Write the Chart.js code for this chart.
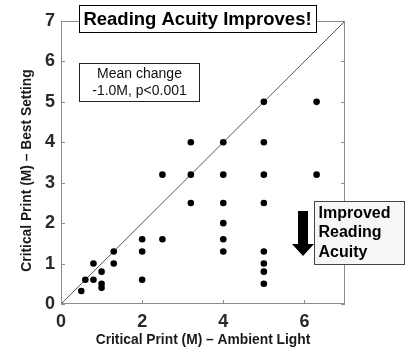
<!DOCTYPE html>
<html>
<head>
<meta charset="utf-8">
<script src="https://cdn.jsdelivr.net/npm/chart.js@4.4.1/dist/chart.umd.min.js"></script>
<style>
  html, body { margin: 0; padding: 0; background: #fff; }
  .wrap { width: 412px; height: 351px; }
</style>
</head>
<body>
<div class="wrap"><canvas id="chart"></canvas></div>
<script>
// critical print size (M): ambient light vs best setting
const ambient = [0.5, 0.6, 0.8, 0.8, 1.0, 1.0, 1.0, 1.3, 1.3, 2.0, 2.0, 2.0, 2.5, 2.5,
                 3.2, 3.2, 3.2, 4.0, 4.0, 4.0, 4.0, 4.0, 4.0,
                 5.0, 5.0, 5.0, 5.0, 5.0, 5.0, 5.0, 5.0, 6.3, 6.3];
const best = [0.32, 0.6, 1.0, 0.6, 0.8, 0.5, 0.4, 1.3, 1.0, 1.6, 1.3, 0.6, 3.2, 1.6,
              4.0, 3.2, 2.5, 4.0, 3.2, 2.5, 2.0, 1.6, 1.3,
              5.0, 4.0, 3.2, 2.5, 1.3, 1.0, 0.8, 0.5, 5.0, 3.2];
const identityLine = [0, 7];
const xTicks = [0, 2, 4, 6];
const yTicks = [0, 1, 2, 3, 4, 5, 6, 7];

const FONT = "'Liberation Sans', Arial, Helvetica, sans-serif";
const frameColor = '#8c8c8c';

const points = ambient.map((x, i) => ({ x: x, y: best[i] }));

const annotations = {
    id: 'annotations',
    afterDatasetsDraw(chart) {
        const { ctx, chartArea: a, scales: { x, y } } = chart;
        ctx.save();
        // frame on top & right plus inward ticks
        ctx.strokeStyle = frameColor;
        ctx.lineWidth = 1;
        ctx.strokeRect(a.left + 0.5, a.top + 0.5, a.right - a.left - 1, a.bottom - a.top - 1);
        ctx.beginPath();
        xTicks.forEach(v => {
            const px = Math.round(x.getPixelForValue(v)) + 0.5;
            ctx.moveTo(px, a.bottom); ctx.lineTo(px, a.bottom - 4);
            ctx.moveTo(px, a.top); ctx.lineTo(px, a.top + 4);
        });
        yTicks.forEach(v => {
            const py = Math.round(y.getPixelForValue(v)) + 0.5;
            ctx.moveTo(a.left, py); ctx.lineTo(a.left + 4, py);
            ctx.moveTo(a.right, py); ctx.lineTo(a.right - 4, py);
        });
        ctx.stroke();
        ctx.restore();
    },
    afterDraw(chart) {
        const { ctx } = chart;
        ctx.save();

        // y axis title (sits a bit below the axis centre in the original)
        ctx.save();
        ctx.translate(27.5, 170.5);
        ctx.rotate(-Math.PI / 2);
        ctx.fillStyle = '#1a1a1a';
        ctx.font = 'bold 13.8px ' + FONT;
        ctx.textAlign = 'center';
        ctx.textBaseline = 'middle';
        ctx.fillText('Critical Print (M) \u2013 Best Setting', 0, 0);
        ctx.restore();

        // title box
        ctx.fillStyle = '#fff';
        ctx.fillRect(79, 5, 237, 27);
        ctx.strokeStyle = '#000';
        ctx.lineWidth = 1;
        ctx.strokeRect(79.5, 5.5, 237, 27);
        ctx.fillStyle = '#000';
        ctx.font = 'bold 18.5px ' + FONT;
        ctx.textAlign = 'center';
        ctx.textBaseline = 'middle';
        ctx.fillText('Reading Acuity Improves!', 197.5, 19.5);

        // mean change box
        ctx.fillStyle = '#fff';
        ctx.fillRect(79, 63, 120, 38);
        ctx.strokeStyle = '#222';
        ctx.strokeRect(79.5, 63.5, 120, 38);
        ctx.fillStyle = '#111';
        ctx.font = '14px ' + FONT;
        ctx.fillText('Mean change', 139.5, 74.5);
        ctx.fillText('-1.0M, p<0.001', 139.5, 91);

        // improved reading acuity box
        ctx.fillStyle = '#f6f6f6';
        ctx.fillRect(314, 201, 90, 63);
        ctx.strokeStyle = '#444';
        ctx.strokeRect(314.5, 201.5, 90, 63);
        ctx.fillStyle = '#000';
        ctx.font = 'bold 16px ' + FONT;
        ctx.textAlign = 'left';
        ctx.fillText('Improved', 318.5, 213.5);
        ctx.fillText('Reading', 318.5, 233);
        ctx.fillText('Acuity', 318.5, 252.5);

        // down arrow
        ctx.beginPath();
        ctx.moveTo(298, 211);
        ctx.lineTo(308, 211);
        ctx.lineTo(308, 244);
        ctx.lineTo(314, 244);
        ctx.lineTo(303, 256);
        ctx.lineTo(292, 244);
        ctx.lineTo(298, 244);
        ctx.closePath();
        ctx.fillStyle = '#000';
        ctx.fill();

        ctx.restore();
    }
};

new Chart(document.getElementById('chart'), {
    type: 'scatter',
    data: {
        datasets: [
            {
                label: 'Identity',
                data: identityLine.map(v => ({ x: v, y: v })),
                showLine: true,
                borderColor: '#555',
                borderWidth: 1,
                pointRadius: 0,
                order: 2,
            },
            {
                label: 'Critical print',
                data: points,
                backgroundColor: '#000',
                borderColor: '#000',
                pointRadius: 3.3,
                borderWidth: 0,
                order: 1,
            },
        ],
    },
    options: {
        responsive: true,
        maintainAspectRatio: false,
        animation: false,
        layout: { padding: { left: 0, top: 21, right: 67, bottom: 0 } },
        plugins: {
            legend: { display: false },
            tooltip: { enabled: false },
        },
        scales: {
            x: {
                type: 'linear',
                min: 0,
                max: 7,
                afterBuildTicks: s => { s.ticks = xTicks.map(v => ({ value: v })); },
                afterFit: s => { s.height = 47; },
                grid: { display: false, drawTicks: false, tickLength: 0 },
                border: { display: false },
                ticks: {
                    padding: 7,
                    color: '#2a2a2a',
                    font: { family: FONT, size: 18, weight: 'bold' },
                },
                title: {
                    display: true,
                    text: 'Critical Print (M) \u2013 Ambient Light',
                    color: '#1a1a1a',
                    padding: { top: 0, bottom: 3 },
                    font: { family: FONT, size: 13.8, weight: 'bold' },
                },
            },
            y: {
                type: 'linear',
                min: 0,
                max: 7,
                afterBuildTicks: s => { s.ticks = yTicks.map(v => ({ value: v })); },
                afterFit: s => { s.width = 61; },
                grid: { display: false, drawTicks: false, tickLength: 0 },
                border: { display: false },
                ticks: {
                    padding: 6,
                    color: '#2a2a2a',
                    font: { family: FONT, size: 18, weight: 'bold' },
                },
                title: { display: false },
            },
        },
    },
    plugins: [annotations],
});
</script>
</body>
</html>
